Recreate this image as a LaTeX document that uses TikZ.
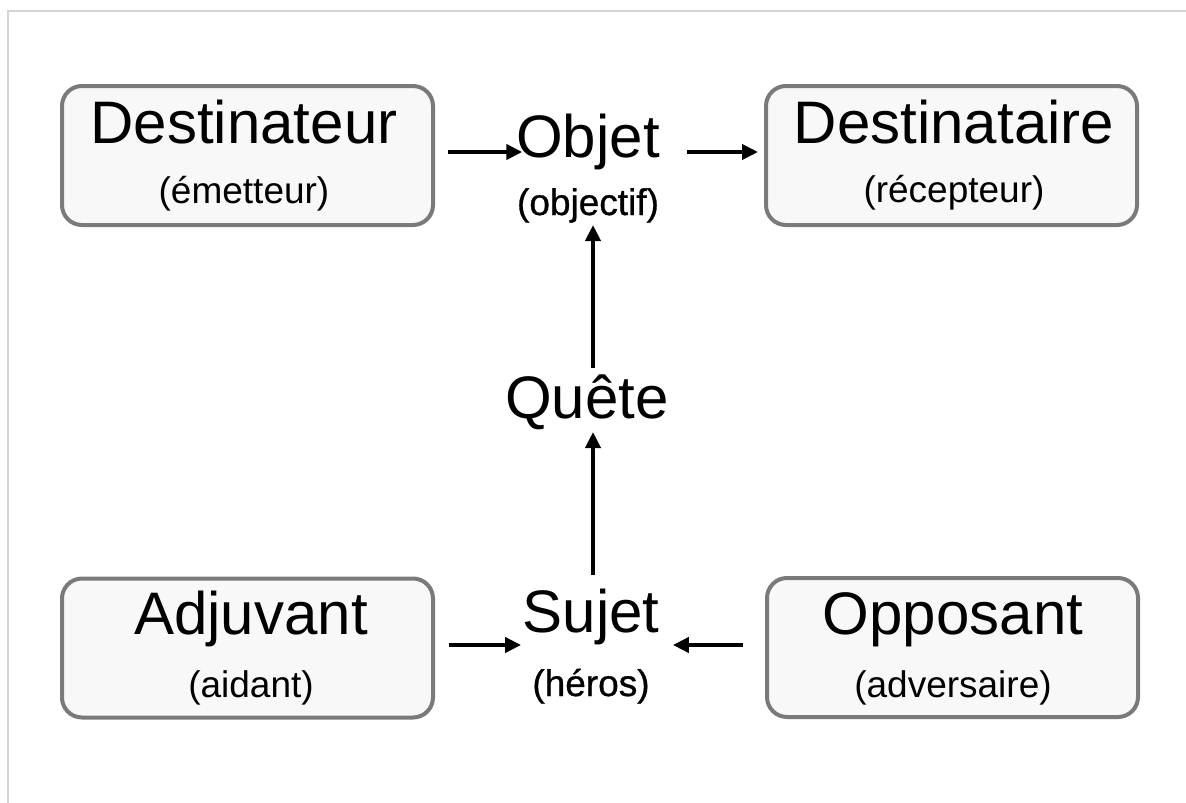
\documentclass[tikz,border=0pt]{standalone}
\usepackage{fontspec}
\setmainfont{Liberation Sans}
\newfontfamily\heavyish[FakeBold=0.8]{Liberation Sans}
\usetikzlibrary{arrows.meta}
\definecolor{boxline}{HTML}{7A7A7A}
\definecolor{boxfill}{HTML}{F8F8F8}
\definecolor{frameline}{HTML}{D4D4D4}
\tikzset{
  rolebox/.style={draw=boxline, fill=boxfill, line width=4pt, rounded corners=20pt,
    minimum width=371pt, minimum height=139pt, inner sep=0pt, outer sep=0pt},
  bigtext/.style={anchor=base, inner sep=0pt, outer sep=0pt, font=\fontsize{60}{72}\selectfont},
  smalltext/.style={anchor=base, inner sep=0pt, outer sep=0pt, font=\fontsize{37}{44}\selectfont},
  heavytext/.style={anchor=base, inner sep=0pt, outer sep=0pt, font=\heavyish\fontsize{37}{44}\selectfont},
  arr/.style={line width=4.5pt, -{Triangle[length=16pt,width=15pt]}}
}
\begin{document}
\begin{tikzpicture}[x=1pt,y=-1pt]
\useasboundingbox (0,0) rectangle (1186,803);
\fill[white] (0,0) rectangle (1186,803);
\draw[frameline, line width=2pt] (8,803) -- (8,11) -- (1186,11);

% boxes
\node[rolebox] (dest)  at (247.5,155.5) {};
\node[rolebox] (desta) at (951.5,155.5) {};
\node[rolebox] (adj)   at (247.5,648) {};
\node[rolebox] (opp)   at (952.5,647.5) {};

% box texts
\node[bigtext]   (destT)  at (244,143) {Destinateur};
\node[smalltext] (destS)  at (244,203) {(émetteur)};
\node[bigtext]   (destaT) at (954,143) {Destinataire};
\node[smalltext] (destaS) at (954,202) {(récepteur)};
\node[bigtext]   (adjT)   at (251,634) {Adjuvant};
\node[smalltext] (adjS)   at (251,697) {(aidant)};
\node[bigtext]   (oppT)   at (953,634) {Opposant};
\node[smalltext] (oppS)   at (953,697) {(adversaire)};

% central labels
\node[bigtext]   (objet)  at (588,157) {Objet};
\node[heavytext] (objsub) at (588,215) {(objectif)};
\node[bigtext]   (quete)  at (587,418) {Quête};
\node[bigtext]   (sujet)  at (591,632) {Sujet};
\node[heavytext] (sujsub) at (591,696) {(héros)};

% connectors
\draw[arr] ([shift={(15,-3.5)}]dest.east) -- ([shift={(6,-5)}]objet.base west);
\draw[arr] ([shift={(27,-5)}]objet.base east) -- ([shift={(-8,-3.5)}]desta.west);
\draw[arr] ([shift={(6,-50)}]quete.base) -- ([shift={(5,10)}]objsub.base);
\draw[arr] ([shift={(2,-57)}]sujet.base) -- ([shift={(6,14)}]quete.base);
\draw[arr] ([shift={(16,-3)}]adj.east) -- ([shift={(-1.5,13)}]sujet.base west);
\draw[arr] ([shift={(-24,-2.5)}]opp.west) -- ([shift={(13.5,13)}]sujet.base east);
\end{tikzpicture}
\end{document}
